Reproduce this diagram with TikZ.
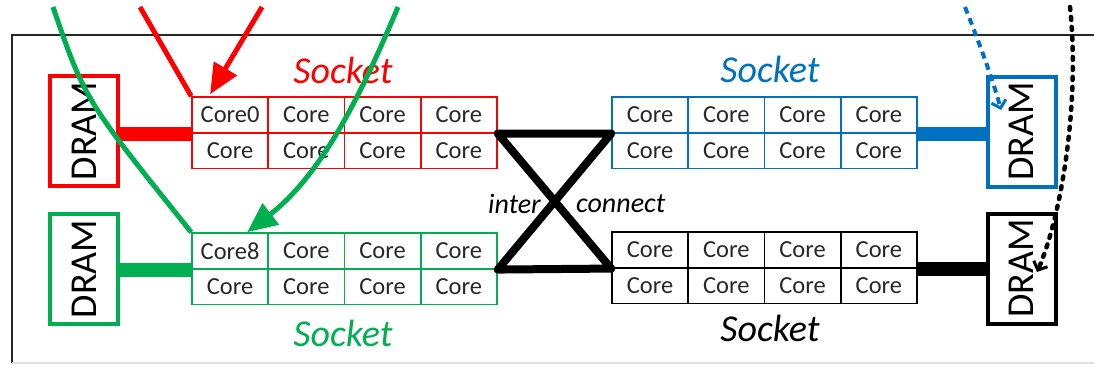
\documentclass[tikz,border=0pt]{standalone}
\usepackage{fontspec}
\setmainfont{Carlito}
\usetikzlibrary{arrows.meta}

\definecolor{sockred}{RGB}{255,0,0}
\definecolor{sockgreen}{RGB}{0,176,80}
\definecolor{sockblue}{RGB}{0,112,192}
\definecolor{sockblack}{RGB}{0,0,0}
\definecolor{celltext}{RGB}{40,40,40}

\tikzset{
  cell/.style={draw=#1, line width=1.6pt, minimum width=76.25pt, minimum height=35.75pt,
               inner sep=0pt, font=\fontsize{24.5}{28}\selectfont, text=celltext},
  drambox/.style={draw=#1, line width=4pt, minimum width=68pt, minimum height=110pt, inner sep=0pt},
  dramtext/.style={rotate=90, inner sep=0pt, font=\fontsize{38}{42}\selectfont},
  socklabel/.style={text=#1, inner sep=0pt, font=\fontsize{38}{44}\selectfont\itshape},
  membus/.style={draw=#1, line width=14pt},
  xconn/.style={draw=black, line width=8pt, line join=round, line cap=round},
  xlabel/.style={inner sep=0pt, font=\fontsize{28}{32}\selectfont\itshape},
  pathline/.style={draw=#1, line width=5pt},
  bigtip/.style={-{Triangle[length=30pt,width=26pt]}},
  smalltip/.style={-{Straight Barb[length=7pt,width=15pt,line width=3pt]}},
}

% one socket: 4 x 2 grid of cores, name / colour / left x / top y / first label
\newcommand\drawsocket[5]{%
  \foreach \c in {1,...,4}{
    \foreach \r in {1,2}{
      \node[cell=#2] (#1-\c-\r) at ({#3+(\c-0.5)*76.25}, {#4+(\r-0.5)*35.75})
        {\ifnum\c=1 \ifnum\r=1 #5\else Core\fi\else Core\fi};
    }
  }%
}

\begin{document}
\begin{tikzpicture}[x=1pt, y=-1pt]
  \useasboundingbox (0,0) rectangle (1094,368);
  \fill[white] (0,0) rectangle (1094,368);

  % enclosing frame
  \draw[black!85, line width=2pt] (1094,35) -- (12,35) -- (12,363);
  \draw[black!12, line width=1.5pt] (12,363) -- (1094,363);

  % sockets
  \drawsocket{R}{sockred}{192}{97}{Core0}
  \drawsocket{B}{sockblue}{612}{97}{Core}
  \drawsocket{G}{sockgreen}{192}{233}{Core8}
  \drawsocket{K}{sockblack}{612}{232}{Core}

  \node[socklabel=sockred]   (lblR) at (343,70)  {Socket};
  \node[socklabel=sockblue]  (lblB) at (770,69)  {Socket};
  \node[socklabel=sockgreen] (lblG) at (343,333) {Socket};
  \node[socklabel=sockblack] (lblK) at (770,328) {Socket};

  % memory modules
  \node[drambox=sockred]   (dR) at (84,131)     {};
  \node[drambox=sockgreen] (dG) at (84,269)     {};
  \node[drambox=sockblue]  (dB) at (1021.5,131.5) {};
  \node[drambox=sockblack] (dK) at (1021.5,268.5) {};
  \node[dramtext] (tR) at (dR) {DRAM};
  \node[dramtext] (tG) at (dG) {DRAM};
  \node[dramtext] (tB) at (dB) {DRAM};
  \node[dramtext] (tK) at (dK) {DRAM};

  % memory buses
  \draw[membus=sockred]   (R-1-1.south west) -- (R-1-1.south west -| dR.east);
  \draw[membus=sockgreen] (G-1-1.south west) -- (G-1-1.south west -| dG.east);
  \draw[membus=sockblue]  (B-4-1.south east) -- (B-4-1.south east -| dB.west);
  \draw[membus=sockblack] (K-4-1.south east) -- (K-4-1.south east -| dK.west);

  % socket interconnect
  \draw[xconn] (R-4-1.south east) -- (B-1-1.south west) -- (G-4-1.south east)
               -- (K-1-1.south west) -- cycle;
  \node[xlabel, anchor=east] (lblInter) at (541,204) {inter};
  \node[xlabel, anchor=west] (lblConn)  at (576,204) {connect};

  % incoming paths from above
  \coordinate (redA) at (140,7);
  \coordinate (redB) at (262,7);
  \coordinate (grnA) at (53,7);
  \coordinate (grnB) at (398,7);
  \coordinate (bluA) at (965,7);
  \coordinate (blkA) at (1070,7);

  \draw[pathline=sockred] (redA) -- (R-1-1.north west);
  \draw[pathline=sockred, bigtip] (redB) -- ([xshift=-20pt,yshift=2pt]R-1-1.north);

  \draw[pathline=sockgreen] (grnA) .. controls (85,100) .. (G-1-1.north west);
  \draw[pathline=sockgreen, bigtip] (grnB) .. controls (365,85) and (325,172) .. ([xshift=17pt]G-1-1.north);

  \draw[sockblue, line width=4pt, dash pattern=on 7pt off 5pt, smalltip]
    (bluA) .. controls (980,45) and (993,80) .. (1001,110);
  \draw[black, line width=4.5pt, line cap=round, dash pattern=on 3pt off 7pt, smalltip]
    (blkA) .. controls (1080,100) and (1062,215) .. (1037,272);
\end{tikzpicture}
\end{document}
